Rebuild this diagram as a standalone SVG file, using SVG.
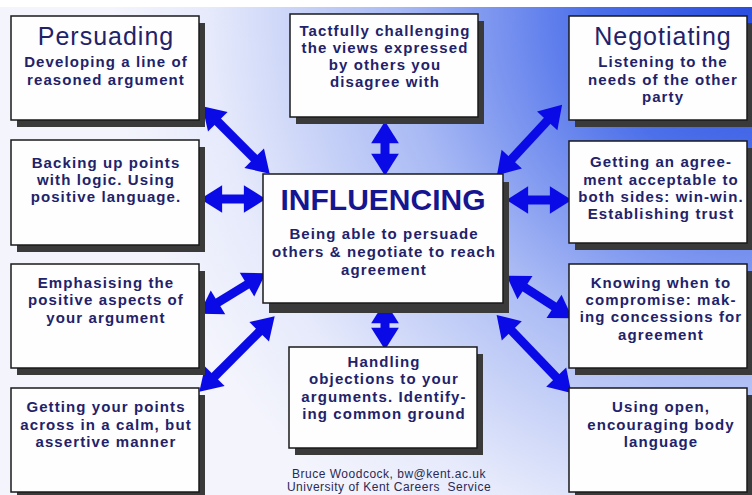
<svg xmlns="http://www.w3.org/2000/svg" width="752" height="495" viewBox="0 0 752 495">
<style>
.sh{fill:#3a3a3a}
.bx{fill:#fefefe;stroke:#1a1a1a;stroke-width:1.5}
.t{font-family:"Liberation Sans",Arial,sans-serif;font-weight:700;font-size:15px;letter-spacing:1.1px;fill:#22226a;text-anchor:middle}
.h{font-family:"Liberation Sans",Arial,sans-serif;font-weight:400;font-size:25px;letter-spacing:1px;fill:#22226a;text-anchor:middle}
.big{font-family:"Liberation Sans",Arial,sans-serif;font-weight:700;font-size:30px;fill:#161690;text-anchor:middle}
.cr{font-family:"Liberation Sans",Arial,sans-serif;font-size:12px;letter-spacing:0.5px;fill:#2a2a55;text-anchor:middle;white-space:pre}
.ar{stroke:#0a0ae6;stroke-width:9;fill:none;marker-start:url(#hd);marker-end:url(#hd)}
</style>
<defs>
<radialGradient id="bg" gradientUnits="userSpaceOnUse" cx="752" cy="7" r="640">
<stop offset="0" stop-color="#2a4de0"/>
<stop offset="0.25" stop-color="#4c6fea"/>
<stop offset="0.55" stop-color="#a8b9f4"/>
<stop offset="0.85" stop-color="#e6eafb"/>
<stop offset="1" stop-color="#f3f4fc"/>
</radialGradient>
<marker id="hd" markerUnits="userSpaceOnUse" markerWidth="30" markerHeight="30" viewBox="0 -13 20 26" refX="1" refY="0" orient="auto-start-reverse">
<path d="M0,-12 L19,0 L0,12 Z" fill="#0a0ae6"/>
</marker>
</defs>
<rect x="0" y="0" width="752" height="495" fill="#ffffff"/>
<rect x="0" y="7" width="752" height="488" fill="url(#bg)"/>

<g id="connectors">
<line class="ar" x1="217" y1="121" x2="255" y2="159"/>
<line class="ar" x1="221" y1="199" x2="245" y2="199"/>
<line class="ar" x1="385" y1="142" x2="385" y2="155"/>
<line class="ar" x1="548" y1="120" x2="511" y2="160"/>
<line class="ar" x1="527" y1="200" x2="551" y2="200"/>
<line class="ar" x1="217" y1="303" x2="248" y2="284"/>
<line class="ar" x1="214" y1="377" x2="260" y2="331"/>
<line class="ar" x1="385" y1="322" x2="385" y2="329"/>
<line class="ar" x1="524" y1="287" x2="555" y2="307"/>
<line class="ar" x1="511" y1="330" x2="557" y2="378"/>
</g>

<g id="persuading">
<rect class="sh" x="17" y="23" width="188" height="104"/>
<rect class="bx" x="11" y="16" width="188" height="104"/>
<text class="h" x="106" y="45">Persuading</text>
<text class="t" x="106" y="67">Developing a line of</text>
<text class="t" x="106" y="85">reasoned argument</text>
</g>

<g id="backing">
<rect class="sh" x="17" y="147" width="188" height="105"/>
<rect class="bx" x="11" y="140" width="188" height="105"/>
<text class="t" x="106" y="168">Backing up points</text>
<text class="t" x="106" y="185">with logic. Using</text>
<text class="t" x="106" y="202">positive language.</text>
</g>

<g id="tactfully">
<rect class="sh" x="296" y="21" width="188" height="103"/>
<rect class="bx" x="290" y="14" width="188" height="103"/>
<text class="t" x="385" y="36">Tactfully challenging</text>
<text class="t" x="385" y="53">the views expressed</text>
<text class="t" x="385" y="70">by others you</text>
<text class="t" x="385" y="87">disagree with</text>
</g>

<g id="negotiating">
<rect class="sh" x="575" y="23" width="178" height="104"/>
<rect class="bx" x="569" y="16" width="178" height="104"/>
<text class="h" x="663" y="45">Negotiating</text>
<text class="t" x="663" y="67">Listening to the</text>
<text class="t" x="663" y="85">needs of the other</text>
<text class="t" x="663" y="102">party</text>
</g>

<g id="agreement">
<rect class="sh" x="575" y="148" width="178" height="102"/>
<rect class="bx" x="569" y="141" width="178" height="102"/>
<text class="t" x="661" y="167">Getting an agree-</text>
<text class="t" x="661" y="185">ment acceptable to</text>
<text class="t" x="661" y="202">both sides: win-win.</text>
<text class="t" x="661" y="219">Establishing trust</text>
</g>

<g id="influencing">
<rect class="sh" x="269" y="182" width="240" height="131"/>
<rect class="bx" x="263" y="174" width="240" height="129"/>
<text class="big" x="383" y="210">INFLUENCING</text>
<text class="t" x="384" y="239">Being able to persuade</text>
<text class="t" x="384" y="257">others &amp; negotiate to reach</text>
<text class="t" x="384" y="275">agreement</text>
</g>

<g id="emphasising">
<rect class="sh" x="17" y="271" width="188" height="104"/>
<rect class="bx" x="11" y="264" width="188" height="104"/>
<text class="t" x="106" y="288">Emphasising the</text>
<text class="t" x="106" y="305">positive aspects of</text>
<text class="t" x="106" y="323">your argument</text>
</g>

<g id="getting-points">
<rect class="sh" x="17" y="395" width="188" height="104"/>
<rect class="bx" x="11" y="388" width="188" height="104"/>
<text class="t" x="106" y="412">Getting your points</text>
<text class="t" x="106" y="430">across in a calm, but</text>
<text class="t" x="106" y="447">assertive manner</text>
</g>

<g id="handling">
<rect class="sh" x="295" y="354" width="188" height="101"/>
<rect class="bx" x="289" y="347" width="188" height="101"/>
<text class="t" x="384" y="367">Handling</text>
<text class="t" x="384" y="384">objections to your</text>
<text class="t" x="384" y="402">arguments. Identify-</text>
<text class="t" x="384" y="419">ing common ground</text>
</g>

<g id="knowing">
<rect class="sh" x="575" y="271" width="178" height="104"/>
<rect class="bx" x="569" y="264" width="178" height="104"/>
<text class="t" x="661" y="288">Knowing when to</text>
<text class="t" x="661" y="305">compromise: mak-</text>
<text class="t" x="661" y="322">ing concessions for</text>
<text class="t" x="661" y="340">agreement</text>
</g>

<g id="using-open">
<rect class="sh" x="575" y="395" width="178" height="104"/>
<rect class="bx" x="569" y="388" width="178" height="104"/>
<text class="t" x="661" y="412">Using open,</text>
<text class="t" x="661" y="430">encouraging body</text>
<text class="t" x="661" y="447">language</text>
</g>

<g id="credit">
<text class="cr" x="389" y="478">Bruce Woodcock, bw@kent.ac.uk</text>
<text class="cr" x="389" y="491">University of Kent Careers  Service</text>
</g>
</svg>
